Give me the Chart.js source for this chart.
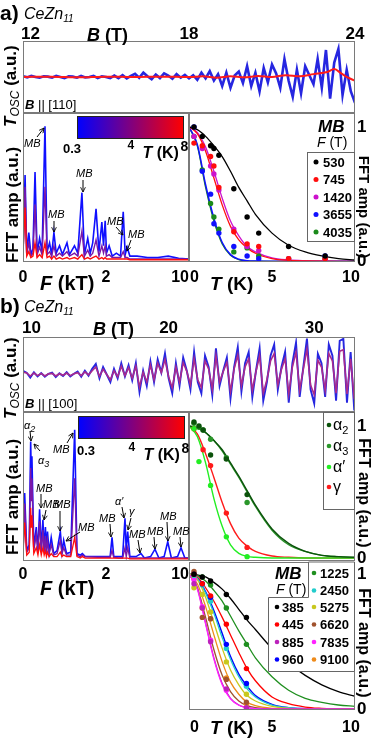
<!DOCTYPE html>
<html><head><meta charset="utf-8">
<script src="https://cdn.jsdelivr.net/npm/chart.js@4.4.1/dist/chart.umd.min.js"></script>
<style>
html,body{margin:0;padding:0;background:#fff;}
#wrap{position:relative;width:374px;height:738px;overflow:hidden;background:#fff;}
#wrap canvas{position:absolute;}
#ov{position:absolute;left:0;top:0;}
</style></head><body>
<div id="wrap">
<canvas id="cA1" width="374" height="93" style="left:0;top:20px"></canvas>
<canvas id="cA2" width="190" height="185" style="left:0;top:113px"></canvas>
<canvas id="cA3" width="185" height="185" style="left:189px;top:113px"></canvas>
<canvas id="cB1" width="374" height="95" style="left:0;top:317px"></canvas>
<canvas id="cB2" width="190" height="185" style="left:0;top:412px"></canvas>
<canvas id="cB3" width="185" height="160" style="left:189px;top:412px"></canvas>
<canvas id="cB4" width="185" height="177" style="left:189px;top:561px"></canvas>
<svg id="ov" width="374" height="738"></svg>
</div>
<script>
// ================= DATA =================
// Panel a: quantum oscillations T_osc vs B (B || [110])
const oscA_ticks = [12, 18, 24];
const oscA_Bstart = 12, oscA_Bstep = 0.15;           // field sampling grid of the 0.3 K trace
const oscA_blue = [0.02,-0.01,0.03,0.0,-0.02,0.02,0.01,-0.02,0.03,0.0,-0.03,0.02,0.01,-0.02,0.03,-0.01,0.0,0.03,-0.03,0.02,0.0,
  -0.03,0.04,-0.03,0.05,-0.04,0.03,0.09,-0.02,0.12,0.02,-0.06,0.07,-0.03,0.1,0.04,-0.05,0.08,-0.02,0.06,-0.04,
  0.05,-0.08,0.12,-0.04,0.16,-0.1,0.08,-0.25,0.12,-0.3,0.04,0.15,-0.17,
  0.3,-0.25,0.12,-0.4,0.25,-0.15,0.35,0.1,-0.3,0.5,
  -0.1,-0.55,0.2,-0.45,0.3,0.05,-0.2,
  0.5,-0.3,0.75,-0.6,0.4,0.78,-0.5,0.2,-0.4,-0.72];
const oscA_red_B = [12,13,14,15,16,17,18,18.5,19,19.5,20,20.5,21,21.5,22,22.5,23,23.25,23.5,23.75,24];
const oscA_red = [0,0.01,-0.01,0.01,0,0.01,0,0.02,-0.02,0.02,-0.01,0.03,0.0,0.05,0.02,0.08,0.14,0.22,0.1,-0.02,-0.1];

// Panel a: FFT spectra (F in kT), 0.3 K / ~3 K / 8 K
const fftTicks = [0, 2, 10];
const fftA_F = [0,0.05,0.09,0.14,0.19,0.24,0.29,0.34,0.40,0.46,0.53,0.58,0.64,0.69,0.745,0.80,0.88,0.95,1.06,1.12,
  1.24,1.32,1.42,1.48,1.56,1.62,1.68,1.76,1.83,1.90,1.94,1.98,2.05,2.3,2.6,3.0,3.4,3.66,3.85,4.04,4.3,5,6,7,8,9,10];
const fftA_03K = [0.05,0.58,0.05,0.19,0.04,0.08,0.60,0.05,0.15,0.06,0.91,0.06,0.12,0.04,0.19,0.05,0.10,0.04,0.12,0.04,
  0.10,0.05,0.46,0.04,0.15,0.05,0.12,0.35,0.06,0.26,0.10,0.27,0.05,0.10,0.03,0.05,0.03,0.33,0.04,0.09,0.03,0.03,0.02,0.02,0.03,0.015,0.01];
const fftA_3K = [0.04,0.50,0.04,0.12,0.03,0.05,0.38,0.04,0.09,0.04,0.50,0.04,0.06,0.03,0.10,0.03,0.05,0.03,0.06,0.03,
  0.05,0.03,0.20,0.03,0.07,0.03,0.05,0.14,0.03,0.10,0.05,0.10,0.03,0.04,0.02,0.02,0.02,0.06,0.02,0.02,0.01,0.01,0.01,0.01,0.01,0.01,0.01];
const fftA_8K = [0.05,0.36,0.03,0.06,0.02,0.03,0.12,0.02,0.04,0.02,0.12,0.02,0.03,0.01,0.03,0.01,0.02,0.01,0.02,0.01,
  0.02,0.01,0.04,0.01,0.02,0.01,0.02,0.03,0.01,0.02,0.01,0.02,0.01,0.01,0.01,0.01,0.01,0.01,0.01,0.01,0.005,0.005,0.005,0.005,0.005,0.005,0.005];

// Panel a: LK temperature dependence (MB orbits)
const lkTicksT = [0, 5, 10];
const ampTicks = [0, 1];
const lkA_freq = ['530','745','1420','3655','4035'];
const lkA_T = [0.3,0.8,1.3,1.5,1.8,2.7,3.5,4.2,6.0,8.2];
const lkA_530  = [1.0,0.93,0.86,0.84,0.79,0.54,0.33,0.21,0.11,0.04];
const lkA_745  = [0.88,0.86,0.78,0.71,0.55,0.22,0.13,0.11,0.02,0.02];
const lkA_1420 = [0.93,0.84,0.71,0.65,0.53,0.24,0.11,0.08,0.02,0.01];
const lkA_3655 = [1.0,0.67,0.5,0.28,0.21,0.11,0.04,0.02,0.0,0.04];
const lkA_4035 = [0.93,0.68,0.43,0.33,0.24,0.07,0.1,0.04,0.02,0.02];
const fitA_T = [0,0.5,1,1.5,2,2.5,3,3.5,4,5,6,7,8,9,10];
const fitA_530  = [1.0,0.98,0.93,0.86,0.78,0.67,0.55,0.45,0.35,0.21,0.12,0.07,0.04,0.02,0.01];
const fitA_745  = [1.0,0.95,0.82,0.62,0.42,0.26,0.16,0.10,0.06,0.02,0.007,0.003,0.001,0,0];
const fitA_1420 = [1.0,0.96,0.85,0.67,0.47,0.30,0.19,0.11,0.07,0.025,0.01,0.004,0.001,0,0];
const fitA_3655 = [1.0,0.87,0.57,0.32,0.14,0.05,0.015,0.005,0.002,0,0,0,0,0,0];
const fitA_4035 = [1.0,0.86,0.55,0.30,0.13,0.045,0.013,0.004,0.001,0,0,0,0,0,0];

// Panel b: oscillations (B || [100]) — 0.3 K and 8 K traces, same field grid
const oscB_ticks = [10, 20, 30];
const oscB_Bstart = 10, oscB_Bstep = 0.25;
const oscB_blue = [0.1,0.05,-0.08,0.06,-0.05,0.04,-0.06,0.02,0.05,-0.07,0.03,-0.04,0.06,-0.05,0.02,0.08,-0.06,0.1,-0.03,0.15,
  0.28,-0.1,0.2,0.0,-0.2,0.15,-0.1,0.3,-0.05,0.25,-0.15,0.3,
  -0.47,0.1,-0.3,0.35,-0.2,0.4,0.05,0.56,-0.1,-0.5,0.3,-0.3,
  0.45,0.1,-0.4,0.6,-0.2,-0.5,0.5,0.2,-0.55,0.7,-0.3,0.1,0.45,-0.64,0.2,0.73,
  -0.45,0.3,0.6,-0.6,0.1,0.7,-0.7,-0.2,0.5,0.8,-0.4,0.2,0.6,-0.75,0.3,0.85,
  -0.6,0.2,0.96,-0.4,-0.77,0.55,0.3,-0.6,0.8,0.5,-0.7,0.9,0.95,-0.75,0.6,-0.96];
const oscB_purple = [0.06,0.04,-0.04,0.04,-0.03,0.03,-0.04,0.02,0.03,-0.04,0.02,-0.02,0.04,-0.03,0.02,0.05,-0.03,0.07,-0.01,0.1,
  0.2,-0.05,0.14,0.0,-0.14,0.1,-0.06,0.22,-0.03,0.18,-0.1,0.22,
  -0.33,0.06,-0.2,0.25,-0.14,0.3,0.05,0.4,-0.06,-0.36,0.2,-0.2,
  0.32,0.08,-0.28,0.42,-0.14,-0.35,0.36,0.15,-0.4,0.5,-0.2,0.08,0.32,-0.45,0.15,0.52,
  -0.3,0.2,0.42,-0.42,0.08,0.5,-0.5,-0.14,0.36,0.56,-0.28,0.14,0.42,-0.52,0.2,0.6,
  -0.42,0.14,0.68,-0.28,-0.54,0.38,0.2,-0.42,0.56,0.36,-0.5,0.62,0.66,-0.52,0.42,-0.66];

// Panel b: FFT spectra
const fftB_F = [0,0.04,0.09,0.15,0.185,0.20,0.215,0.26,0.32,0.36,0.40,0.44,0.48,0.51,0.54,0.565,0.59,0.63,0.68,0.74,
  0.82,0.90,0.94,0.98,1.05,1.15,1.245,1.30,1.38,1.43,1.50,1.8,2.1,2.4,2.58,2.75,3.2,3.6,3.83,3.95,
  4.09,4.3,4.9,5.37,5.7,6.3,6.72,7.1,7.6,7.95,8.3,8.9,9.23,9.6,10];
const fftB_03K = [0.05,0.45,0.06,0.10,0.80,0.55,0.70,0.08,0.22,0.06,0.34,0.07,0.27,0.06,0.22,0.05,0.19,0.05,0.15,0.04,
  0.06,0.19,0.05,0.13,0.04,0.05,0.88,0.04,0.03,0.04,0.02,0.02,0.02,0.02,0.15,0.02,0.02,0.02,0.28,0.06,
  0.19,0.02,0.02,0.04,0.01,0.02,0.07,0.01,0.02,0.12,0.01,0.02,0.08,0.01,0.01];
const fftB_4K = [0.04,0.38,0.05,0.08,0.62,0.40,0.55,0.06,0.17,0.05,0.26,0.05,0.20,0.05,0.16,0.04,0.13,0.04,0.10,0.03,
  0.04,0.13,0.04,0.08,0.03,0.03,0.55,0.03,0.02,0.03,0.02,0.015,0.015,0.015,0.06,0.015,0.01,0.01,0.08,0.02,
  0.08,0.01,0.01,0.01,0.01,0.01,0.01,0.01,0.01,0.01,0.01,0.01,0.01,0.01,0.01];
const fftB_8K = [0.04,0.25,0.03,0.05,0.35,0.22,0.30,0.04,0.08,0.03,0.10,0.03,0.08,0.03,0.06,0.02,0.05,0.02,0.04,0.02,
  0.02,0.05,0.02,0.03,0.02,0.02,0.15,0.02,0.01,0.02,0.01,0.01,0.01,0.01,0.01,0.01,0.01,0.01,0.01,0.01,
  0.01,0.005,0.005,0.005,0.005,0.005,0.005,0.005,0.005,0.005,0.005,0.005,0.005,0.005,0.005];

// Panel b (middle): alpha / gamma orbits
const lkM_T = [0.3,0.6,0.85,1.3,2.25,3.5];
const lkM_a2 = [1.03,1.0,0.97,0.78,0.75,0.48];
const lkM_a3 = [1.02,0.99,0.97,0.90,0.76,0.42];
const lkM_ap = [0.98,0.73,null,0.55,0.16,0.01];
const lkM_g  = [0.98,null,0.82,0.70,0.34,0.08];
const fitM_T = [0,0.5,1,1.5,2,2.5,3,3.5,4,5,6,7,8,9,10];
const fitM_a2 = [1.0,0.985,0.95,0.89,0.82,0.72,0.62,0.51,0.40,0.22,0.11,0.05,0.02,0.01,0.005];
const fitM_a3 = [1.0,0.985,0.95,0.89,0.81,0.71,0.61,0.50,0.39,0.21,0.10,0.05,0.02,0.01,0.004];
const fitM_ap = [1.0,0.92,0.72,0.45,0.24,0.10,0.035,0.012,0.005,0,0,0,0,0,0];
const fitM_g  = [1.0,0.94,0.79,0.61,0.42,0.26,0.15,0.09,0.05,0.015,0.005,0,0,0,0];

// Panel b (bottom): MB orbits
const lkB_freq = ['385','445','885','960','1225','2450','5275','6620','7835','9100'];
const lkB_T = [0.3,0.8,1.3,2.25,3.46];
const lkB_385  = [1.0,0.98,0.95,0.85,0.68];
const lkB_445  = [1.0,0.93,0.84,0.63,0.30];
const lkB_885  = [0.93,0.75,0.50,0.15,0.01];
const lkB_960  = [1.0,0.93,0.83,0.48,0.19];
const lkB_1225 = [1.0,0.98,0.92,0.75,0.48];
const lkB_2450 = [0.99,0.92,0.80,0.45,0.17];
const lkB_5275 = [0.90,0.85,0.72,0.35,0.11];
const lkB_6620 = [1.02,0.68,0.67,0.22,0.05];
const lkB_7835 = [0.96,0.76,0.51,0.14,0.0];
const lkB_9100 = [0.97,0.75,0.67,0.23,0.04];
const fitB_T = [0,0.5,1,1.5,2,2.5,3,3.5,4,5,6,7,8,9,10];
const fitB_385  = [1,0.995,0.98,0.94,0.89,0.82,0.74,0.66,0.59,0.45,0.34,0.25,0.18,0.13,0.095];
const fitB_445  = [1,0.98,0.90,0.80,0.68,0.55,0.42,0.30,0.21,0.09,0.04,0.015,0.005,0,0];
const fitB_885  = [1,0.90,0.64,0.38,0.19,0.08,0.03,0.01,0.003,0,0,0,0,0,0];
const fitB_960  = [1,0.97,0.87,0.73,0.56,0.39,0.26,0.17,0.10,0.035,0.01,0.003,0,0,0];
const fitB_1225 = [1,0.99,0.95,0.88,0.80,0.69,0.58,0.48,0.38,0.24,0.14,0.08,0.05,0.03,0.02];
const fitB_2450 = [1,0.97,0.86,0.71,0.53,0.37,0.24,0.15,0.09,0.03,0.01,0.003,0,0,0];
const fitB_5275 = [1,0.96,0.83,0.64,0.45,0.29,0.18,0.10,0.06,0.02,0.005,0,0,0,0];
const fitB_6620 = [1,0.90,0.68,0.44,0.25,0.13,0.06,0.025,0.01,0,0,0,0,0,0];
const fitB_7835 = [1,0.89,0.63,0.37,0.18,0.075,0.028,0.01,0.003,0,0,0,0,0,0];
const fitB_9100 = [1,0.93,0.76,0.55,0.35,0.20,0.11,0.05,0.025,0.005,0,0,0,0,0];

// ================= STYLE / HELPERS =================
const FF = '"Liberation Sans", Arial, Helvetica, sans-serif';
const C = {blue:'#1010ff', purple:'#7a18a8', red:'#ff0d0d', oscBlue:'#2626e0', oscRed:'#ff1a1a', oscPurple:'#a82a8e',
  black:'#000000', mag:'#cc11cc', green:'#1a8a1a',
  a2:'#0b520b', a3:'#2a962a', ap:'#22ee22', g:'#ff1a1a',
  f385:'#000000', f445:'#ff0000', f885:'#bb22bb', f960:'#0000ff', f1225:'#1f8f1f', f2450:'#22cccc',
  f5275:'#c8c81e', f6620:'#a0522d', f7835:'#ff22ff', f9100:'#ee8a1a'};

function fftX(F){ return F <= 2 ? F : 2 + (F - 2) / 4; } // broken F axis: 0-2 kT then 2-10 kT compressed x4
function grid(start, step, n){ return Array.from({length:n}, (_, i) => +(start + i * step).toFixed(3)); }
function pts(xs, ys, fx){ return xs.map((x, i) => ({x: fx ? fx(x) : x, y: ys[i]})); }
function line(data, color, w, smooth){ return {data, showLine:true, borderColor:color, backgroundColor:color, borderWidth:w, pointRadius:0, fill:false, tension:0, cubicInterpolationMode: smooth ? 'monotone' : 'default'}; }
function dots(data, color){ return {data, showLine:false, pointRadius:2.7, pointBorderWidth:0, pointBackgroundColor:color, backgroundColor:color, borderColor:color}; }

const framePlugin = {id:'frame', afterDatasetsDraw(c){
  const a = c.chartArea, x = c.ctx; x.save(); x.strokeStyle = '#7a7a7a'; x.lineWidth = 1;
  const l = Math.round(a.left), t = Math.round(a.top), r = Math.round(a.right), b = Math.round(a.bottom);
  x.strokeRect(l + 0.5, t + 0.5, r - l - 1, b - t - 1); x.restore(); }};
function tickLabels(specs){ return {id:'ticklabels', afterDraw(c){
  const ctx = c.ctx; ctx.save(); ctx.fillStyle = '#000'; ctx.textBaseline = 'middle';
  specs.forEach(s => { const sc = c.scales[s.axis]; ctx.font = s.font;
    s.values.forEach((v, i) => { const p = sc.getPixelForValue(v); ctx.textAlign = s.aligns[i];
      if (s.axis === 'x') ctx.fillText(s.texts[i], p + (s.dx ? s.dx[i] : 0), s.pos);
      else ctx.fillText(s.texts[i], s.pos, p); }); });
  ctx.restore(); }}; }
function make(id, pad, xr, yr, datasets, specs){
  return new Chart(document.getElementById(id), {type:'scatter', data:{datasets},
    options:{responsive:false, animation:false, devicePixelRatio:1, events:[],
      layout:{padding:pad, autoPadding:false},
      scales:{x:{type:'linear', display:false, min:xr[0], max:xr[1]}, y:{type:'linear', display:false, min:yr[0], max:yr[1]}},
      plugins:{legend:{display:false}, tooltip:{enabled:false}}},
    plugins:[framePlugin, tickLabels(specs)]});
}
const tickFont = 'bold 16px ' + FF, ampFont = 'bold 17px ' + FF;
const fftSpec = pos => ({axis:'x', values:fftTicks.map(fftX), texts:fftTicks.map(String), aligns:['center','center','right'], pos, font:tickFont});
const tSpec = pos => ({axis:'x', values:lkTicksT, texts:lkTicksT.map(String), aligns:['left','center','center'], dx:[1,0,-4], pos, font:tickFont});
const ampSpec = {axis:'y', values:ampTicks, texts:ampTicks.map(String), aligns:['left','left'], pos:168, font:ampFont};

// ================= CHARTS =================
make('cA1', {left:23, right:19, top:21, bottom:0}, [12, 24], [-1, 1], [
  line(pts(oscA_red_B, oscA_red), C.oscRed, 2, true),
  line(pts(grid(oscA_Bstart, oscA_Bstep, oscA_blue.length), oscA_blue), C.oscBlue, 2.6, false)
], [{axis:'x', values:oscA_ticks, texts:oscA_ticks.map(String), aligns:['left','center','center'], dx:[-2,0,0], pos:14.5, font:'bold 17px ' + FF}]);

make('cA2', {left:23, right:1, top:0, bottom:36}, [0, 4], [-0.01, 1], [
  line(pts(fftA_F, fftA_8K, fftX), C.red, 1.4, false),
  line(pts(fftA_F, fftA_3K, fftX), C.purple, 1.4, false),
  line(pts(fftA_F, fftA_03K, fftX), C.blue, 1.6, false)
], [fftSpec(164.5)]);

make('cA3', {left:0, right:19, top:0, bottom:36}, [0, 10], [-0.005, 1.104], [
  dots(pts(lkA_T, lkA_530), C.black), dots(pts(lkA_T, lkA_745), C.red), dots(pts(lkA_T, lkA_1420), C.mag),
  dots(pts(lkA_T, lkA_3655), C.blue), dots(pts(lkA_T, lkA_4035), C.green),
  line(pts(fitA_T, fitA_530), C.black, 1.3, true), line(pts(fitA_T, fitA_745), C.red, 1.3, true),
  line(pts(fitA_T, fitA_1420), C.mag, 1.3, true), line(pts(fitA_T, fitA_3655), C.blue, 1.5, true),
  line(pts(fitA_T, fitA_4035), C.green, 1.3, true)
], [tSpec(164.5), ampSpec]);

const gridB = grid(oscB_Bstart, oscB_Bstep, oscB_blue.length);
make('cB1', {left:23, right:19, top:20, bottom:0}, [10, 32.8], [-1, 1], [
  line(pts(gridB, oscB_purple), C.oscPurple, 1.6, false),
  line(pts(gridB, oscB_blue), C.oscBlue, 1.9, false)
], [{axis:'x', values:oscB_ticks, texts:oscB_ticks.map(String), aligns:['left','center','center'], dx:[-1,0,0], pos:11.5, font:'bold 17px ' + FF}]);

make('cB2', {left:23, right:1, top:0, bottom:36}, [0, 4], [-0.01, 1], [
  line(pts(fftB_F, fftB_8K, fftX), C.red, 1.3, false),
  line(pts(fftB_F, fftB_4K, fftX), C.purple, 1.4, false),
  line(pts(fftB_F, fftB_03K, fftX), C.blue, 1.6, false)
], [fftSpec(163)]);

make('cB3', {left:0, right:19, top:0, bottom:11}, [0, 10], [-0.023, 1.106], [
  dots(pts(lkM_T, lkM_a2), C.a2), dots(pts(lkM_T, lkM_a3), C.a3), dots(pts(lkM_T, lkM_ap), C.ap), dots(pts(lkM_T, lkM_g), C.g),
  line(pts(fitM_T, fitM_a2), C.a2, 1.4, true), line(pts(fitM_T, fitM_a3), C.a3, 1.3, true),
  line(pts(fitM_T, fitM_ap), C.ap, 1.4, true), line(pts(fitM_T, fitM_g), C.g, 1.4, true)
], [ampSpec]);

make('cB4', {left:0, right:19, top:1, bottom:28}, [0, 10], [-0.007, 1.091], [
  dots(pts(lkB_T, lkB_385), C.f385), dots(pts(lkB_T, lkB_445), C.f445), dots(pts(lkB_T, lkB_885), C.f885),
  dots(pts(lkB_T, lkB_960), C.f960), dots(pts(lkB_T, lkB_1225), C.f1225), dots(pts(lkB_T, lkB_2450), C.f2450),
  dots(pts(lkB_T, lkB_5275), C.f5275), dots(pts(lkB_T, lkB_6620), C.f6620), dots(pts(lkB_T, lkB_7835), C.f7835),
  dots(pts(lkB_T, lkB_9100), C.f9100),
  line(pts(fitB_T, fitB_7835), C.f7835, 1.3, true), line(pts(fitB_T, fitB_885), C.f885, 1.3, true),
  line(pts(fitB_T, fitB_6620), C.f6620, 1.3, true), line(pts(fitB_T, fitB_9100), C.f9100, 1.3, true),
  line(pts(fitB_T, fitB_5275), C.f5275, 1.3, true), line(pts(fitB_T, fitB_2450), C.f2450, 1.3, true),
  line(pts(fitB_T, fitB_960), C.f960, 1.5, true), line(pts(fitB_T, fitB_445), C.f445, 1.3, true),
  line(pts(fitB_T, fitB_1225), C.f1225, 1.3, true), line(pts(fitB_T, fitB_385), C.f385, 1.3, true)
], [tSpec(166.5), ampSpec]);

// ================= OVERLAY TEXT / LEGENDS / ANNOTATIONS =================
const svg = [];
svg.push('<defs><linearGradient id="cb"><stop offset="0" stop-color="#0000ff"/><stop offset="1" stop-color="#ff0000"/></linearGradient>' +
  '<marker id="ah" viewBox="0 0 10 10" refX="9" refY="5" markerWidth="6" markerHeight="6" orient="auto"><path d="M1,1 L9,5 L1,9" fill="none" stroke="#000" stroke-width="1.4"/></marker></defs>');
const t = (x, y, size, content, extra) => `<text x="${x}" y="${y}" font-size="${size}" ${extra || ''}>${content}</text>`;
const rot = (x, y, r, size, content, extra) => `<text transform="translate(${x},${y}) rotate(${r})" font-size="${size}" ${extra || ''}>${content}</text>`;
const BI = s => `<tspan font-weight="bold" font-style="italic">${s}</tspan>`;
function header(lbl, y0, bx, by, dirTxt, tY, bb){
  svg.push(t(0, y0, 21, lbl, 'font-weight="bold"'));
  svg.push(t(24, y0 - 1, 16, 'CeZn<tspan font-size="10" dy="3">11</tspan>', 'font-style="italic"'));
  svg.push(t(bx, by, 18, BI('B') + ' (T)', 'font-weight="bold"'));
  svg.push(rot(16, tY, -90, 17, BI('T') + '<tspan font-style="italic" font-size="12" dy="3">OSC</tspan><tspan font-weight="bold" dy="-3"> (a.u.)</tspan>'));
  svg.push(t(25, bb, 13, BI('B') + ' || ' + dirTxt));
}
header('a)', 20, 87, 41, '[110]', 127, 109);
header('b)', 313, 93, 335, '[100]', 419, 408);
svg.push(rot(18, 205, -90, 17, 'FFT amp (a.u.)', 'font-weight="bold" text-anchor="middle"'));
svg.push(rot(18, 497, -90, 17, 'FFT amp (a.u.)', 'font-weight="bold" text-anchor="middle"'));
svg.push(rot(359, 207, 90, 15, 'FFT amp (a.u.)', 'font-weight="bold" text-anchor="middle"'));
svg.push(rot(359, 493, 90, 16, 'FFT amp (a.u.)', 'font-weight="bold" text-anchor="middle"'));
svg.push(rot(359, 643, 90, 16, 'FFT amp (a.u.)', 'font-weight="bold" text-anchor="middle"'));
svg.push(t(40, 290, 20, '<tspan font-style="italic">F</tspan> (kT)', 'font-weight="bold"'));
svg.push(t(40, 595, 20, '<tspan font-style="italic">F</tspan> (kT)', 'font-weight="bold"'));
svg.push(t(210, 290, 19, '<tspan font-style="italic">T</tspan> (K)', 'font-weight="bold"'));
svg.push(t(210, 734, 19, '<tspan font-style="italic">T</tspan> (K)', 'font-weight="bold"'));
function colorbar(x, y, w, h, l03x, base){
  svg.push(`<rect x="${x}" y="${y}" width="${w}" height="${h}" fill="url(#cb)" stroke="#222" stroke-width="1"/>`);
  svg.push(t(l03x, base, 13, '0.3', 'font-weight="bold"'));
  svg.push(t(x + 50, base - 4, 12, '4', 'font-weight="bold"'));
  svg.push(t(x + 65, base + 5, 16, '<tspan font-style="italic">T</tspan> (K)', 'font-weight="bold"'));
  svg.push(t(x + 103, base - 2, 14, '8', 'font-weight="bold"'));
}
colorbar(77.5, 116.5, 106, 22, 63, 153);
colorbar(78.5, 416.5, 106, 22, 77, 455);
function ann(lbl, lx, ly, x1, y1, x2, y2){
  svg.push(t(lx, ly, 11, lbl, 'font-style="italic"'));
  svg.push(`<line x1="${x1}" y1="${y1}" x2="${x2}" y2="${y2}" stroke="#000" stroke-width="1" marker-end="url(#ah)"/>`);
}
ann('MB', 24, 147, 37, 137, 44, 128);
ann('MB', 76, 177, 83, 180, 83, 192);
ann('MB', 48, 218, 54, 221, 54, 232);
ann('MB', 107, 225, 116, 227, 123, 235);
ann('MB', 128, 238, 131, 240, 127, 251);
ann('α<tspan font-size="9" dy="3">2</tspan>', 24, 429, 30, 431, 31, 441);
ann('α<tspan font-size="9" dy="3">3</tspan>', 38, 464, 40, 451, 34, 444);
ann('MB', 53, 453, 67, 443, 73, 433);
ann('MB', 36, 492, 41, 494, 41, 508);
ann('MB', 43, 508, 46, 510, 44, 520);
ann('MB', 54, 508, 60, 511, 60, 531);
ann('MB', 78, 531, 80, 532, 66, 541);
ann('MB', 99, 522, 110, 524, 111, 537);
ann('α′', 115, 505, 122, 507, 124, 518);
ann('γ', 129, 515, 131, 518, 128, 530);
ann('MB', 129, 538, 138, 540, 140, 553);
ann('MB', 147, 535, 154, 537, 155, 549);
ann('MB', 160, 520, 167, 522, 168, 541);
ann('MB', 173, 535, 180, 537, 181, 547);
const colA = [C.black, C.red, C.mag, C.blue, C.green];
svg.push(t(318, 132, 17, 'MB', 'font-weight="bold" font-style="italic"'));
svg.push(t(317, 147, 14, '<tspan font-style="italic">F</tspan> (T)'));
svg.push('<rect x="307.5" y="152.5" width="47" height="89" fill="#fff" stroke="#666" stroke-width="1"/>');
lkA_freq.forEach((f, i) => { const y = 162 + i * 17.5;
  svg.push(`<circle cx="316" cy="${y}" r="2.5" fill="${colA[i]}"/>`);
  svg.push(t(323, y + 4.5, 13, f, 'font-weight="bold"')); });
const labM = ['α<tspan font-size="11" dy="4">2</tspan>', 'α<tspan font-size="11" dy="4">3</tspan>', 'α′', 'γ'];
const colM = [C.a2, C.a3, C.ap, C.g];
svg.push('<rect x="323.5" y="412.5" width="31" height="97" fill="#fff" stroke="#666" stroke-width="1"/>');
[425, 446, 467, 487].forEach((y, i) => {
  svg.push(`<circle cx="329" cy="${y}" r="2.3" fill="${colM[i]}"/>`);
  svg.push(t(333, y + 5, 16, labM[i])); });
const colB = [C.f385, C.f445, C.f885, C.f960, C.f1225, C.f2450, C.f5275, C.f6620, C.f7835, C.f9100];
svg.push('<path d="M308.5,562 V597.5 H268.5 V671.5 H354.5 V562 Z" fill="#fff" stroke="#666" stroke-width="1"/>');
svg.push('<rect x="269" y="563" width="39" height="34" fill="#fff"/>');
svg.push(t(275, 579, 17, 'MB', 'font-weight="bold" font-style="italic"'));
svg.push(t(276, 594, 14, '<tspan font-style="italic">F</tspan> (T)'));
const rowB1 = [607, 624.5, 642, 659.5], rowB2 = [573, 590.5, 607, 624.5, 642, 659.5];
lkB_freq.forEach((f, i) => {
  const left = i < 4, y = left ? rowB1[i] : rowB2[i - 4], dx = left ? 277 : 314, tx = left ? 282 : 320;
  svg.push(`<circle cx="${dx}" cy="${y}" r="2.3" fill="${colB[i]}"/>`);
  svg.push(t(tx, y + 4.5, 13, f, 'font-weight="bold"')); });
const ov = document.getElementById('ov');
ov.setAttribute('font-family', 'Liberation Sans, Arial, Helvetica, sans-serif');
ov.innerHTML = svg.join('');
</script>
</body></html>
